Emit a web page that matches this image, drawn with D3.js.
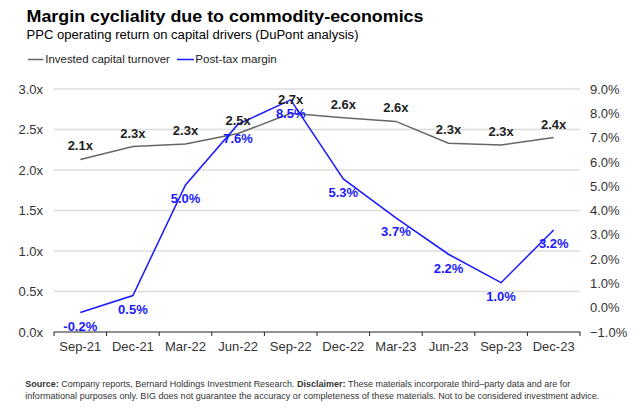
<!DOCTYPE html>
<html><head><meta charset="utf-8">
<script src="https://cdn.jsdelivr.net/npm/d3@7"></script>
<style>body{margin:0;background:#fff;}svg{display:block;font-family:"Liberation Sans",Arial,sans-serif;}</style>
</head><body><svg id="c" width="640" height="413"></svg>
<script>
const categories = ["Sep-21","Dec-21","Mar-22","Jun-22","Sep-22","Dec-22","Mar-23","Jun-23","Sep-23","Dec-23"];
const turnover = [2.13,2.29,2.32,2.45,2.70,2.645,2.60,2.33,2.31,2.40];
const turnoverLabels = ["2.1x","2.3x","2.3x","2.5x","2.7x","2.6x","2.6x","2.3x","2.3x","2.4x"];
const margin = [-0.2,0.5,5.05,7.55,8.55,5.3,3.7,2.2,1.03,3.2];
const marginLabels = ["-0.2%","0.5%","5.0%","7.6%","8.5%","5.3%","3.7%","2.2%","1.0%","3.2%"];
const leftTicks = [0,0.5,1,1.5,2,2.5,3];
const rightTicks = [-1,0,1,2,3,4,5,6,7,8,9];

const svg = d3.select("#c");
const L = 54, R = 580, T = 89, B = 332;
const x = d3.scaleBand().domain(categories).range([L, R]);
const yL = d3.scaleLinear().domain([0,3]).range([B,T]);
const yR = d3.scaleLinear().domain([-1,9]).range([B,T]);
const cx = d => x(d) + x.bandwidth()/2;

// title
svg.append("text").attr("x",26.5).attr("y",21.5).attr("font-size",17).attr("font-weight","bold").attr("fill","#000")
  .attr("textLength",397).attr("lengthAdjust","spacingAndGlyphs").text("Margin cycliality due to commodity-economics");
svg.append("text").attr("x",26.5).attr("y",39.3).attr("font-size",12.5).attr("fill","#000")
  .attr("textLength",332).attr("lengthAdjust","spacingAndGlyphs").text("PPC operating return on capital drivers (DuPont analysis)");

// legend
const lg = svg.append("g").attr("font-size",11.5).attr("fill","#222");
lg.append("line").attr("x1",28).attr("x2",43.5).attr("y1",59.5).attr("y2",59.5).attr("stroke","#666").attr("stroke-width",1.5);
lg.append("text").attr("x",45.3).attr("y",63.3).attr("textLength",124.5).attr("lengthAdjust","spacingAndGlyphs").text("Invested capital turnover");
lg.append("line").attr("x1",177).attr("x2",194).attr("y1",59.5).attr("y2",59.5).attr("stroke","#1a1aff").attr("stroke-width",1.5);
lg.append("text").attr("x",195.3).attr("y",63.3).attr("textLength",81.5).attr("lengthAdjust","spacingAndGlyphs").text("Post-tax margin");

// gridlines
svg.append("g").selectAll("line").data(leftTicks.filter(d=>d>0)).join("line")
  .attr("x1",L).attr("x2",R).attr("y1",d=>yL(d)).attr("y2",d=>yL(d))
  .attr("stroke","#dcdcdc").attr("stroke-width",1.3);

// left axis
const la = svg.append("g").attr("transform",`translate(${L},0)`)
  .call(d3.axisLeft(yL).tickValues(leftTicks).tickSize(0).tickPadding(11).tickFormat(d=>d3.format(".1f")(d)+"x"));
la.select(".domain").remove();
la.selectAll("text").attr("font-size",13).attr("fill","#333").attr("font-family","Liberation Sans, Arial, sans-serif");

// right axis
const ra = svg.append("g").attr("transform",`translate(${R},0)`)
  .call(d3.axisRight(yR).tickValues(rightTicks).tickSize(0).tickPadding(10).tickFormat(d=>d3.format(".1f")(d)+"%"));
ra.select(".domain").remove();
ra.selectAll("text").attr("font-size",13).attr("fill","#333").attr("font-family","Liberation Sans, Arial, sans-serif");

// bottom axis
const edges = categories.map(c=>x(c)).concat([R]);
svg.append("line").attr("x1",L).attr("x2",R).attr("y1",B).attr("y2",B).attr("stroke","#222").attr("stroke-width",1.2);
svg.append("g").selectAll("line").data(edges).join("line")
  .attr("x1",d=>d).attr("x2",d=>d).attr("y1",B).attr("y2",B+4).attr("stroke","#222").attr("stroke-width",1);
svg.append("g").selectAll("text").data(categories).join("text")
  .attr("x",d=>cx(d)).attr("y",B+19).attr("text-anchor","middle").attr("font-size",13).attr("fill","#333").text(d=>d);

// lines
const lineT = d3.line().x((d,i)=>cx(categories[i])).y(d=>yL(d));
const lineM = d3.line().x((d,i)=>cx(categories[i])).y(d=>yR(d));
svg.append("path").datum(turnover).attr("d",lineT).attr("fill","none").attr("stroke","#666").attr("stroke-width",1.5);
svg.append("path").datum(margin).attr("d",lineM).attr("fill","none").attr("stroke","#1a1aff").attr("stroke-width",1.5);

// labels
svg.append("g").selectAll("text").data(turnover).join("text")
  .attr("x",(d,i)=>cx(categories[i])).attr("y",d=>yL(d)-9)
  .attr("text-anchor","middle").attr("font-size",13).attr("font-weight","bold").attr("fill","#222")
  .text((d,i)=>turnoverLabels[i]);
svg.append("g").selectAll("text").data(margin).join("text")
  .attr("x",(d,i)=>cx(categories[i])).attr("y",d=>yR(d)+18.5)
  .attr("text-anchor","middle").attr("font-size",13).attr("font-weight","bold").attr("fill","#1a1aff")
  .text((d,i)=>marginLabels[i]);

// footer
const ft = svg.append("g").attr("font-size",9.1).attr("fill","#333");
const f1 = ft.append("text").attr("x",25.3).attr("y",387.3).attr("textLength",545).attr("lengthAdjust","spacingAndGlyphs");
f1.append("tspan").attr("font-weight","bold").text("Source:");
f1.append("tspan").text(" Company reports, Bernard Holdings Investment Research. ");
f1.append("tspan").attr("font-weight","bold").text("Disclaimer:");
f1.append("tspan").text(" These materials incorporate third\u2013party data and are for");
ft.append("text").attr("x",25.3).attr("y",399.3).attr("textLength",574).attr("lengthAdjust","spacingAndGlyphs").text("informational purposes only. BIG does not guarantee the accuracy or completeness of these materials. Not to be considered investment advice.");
</script></body></html>
